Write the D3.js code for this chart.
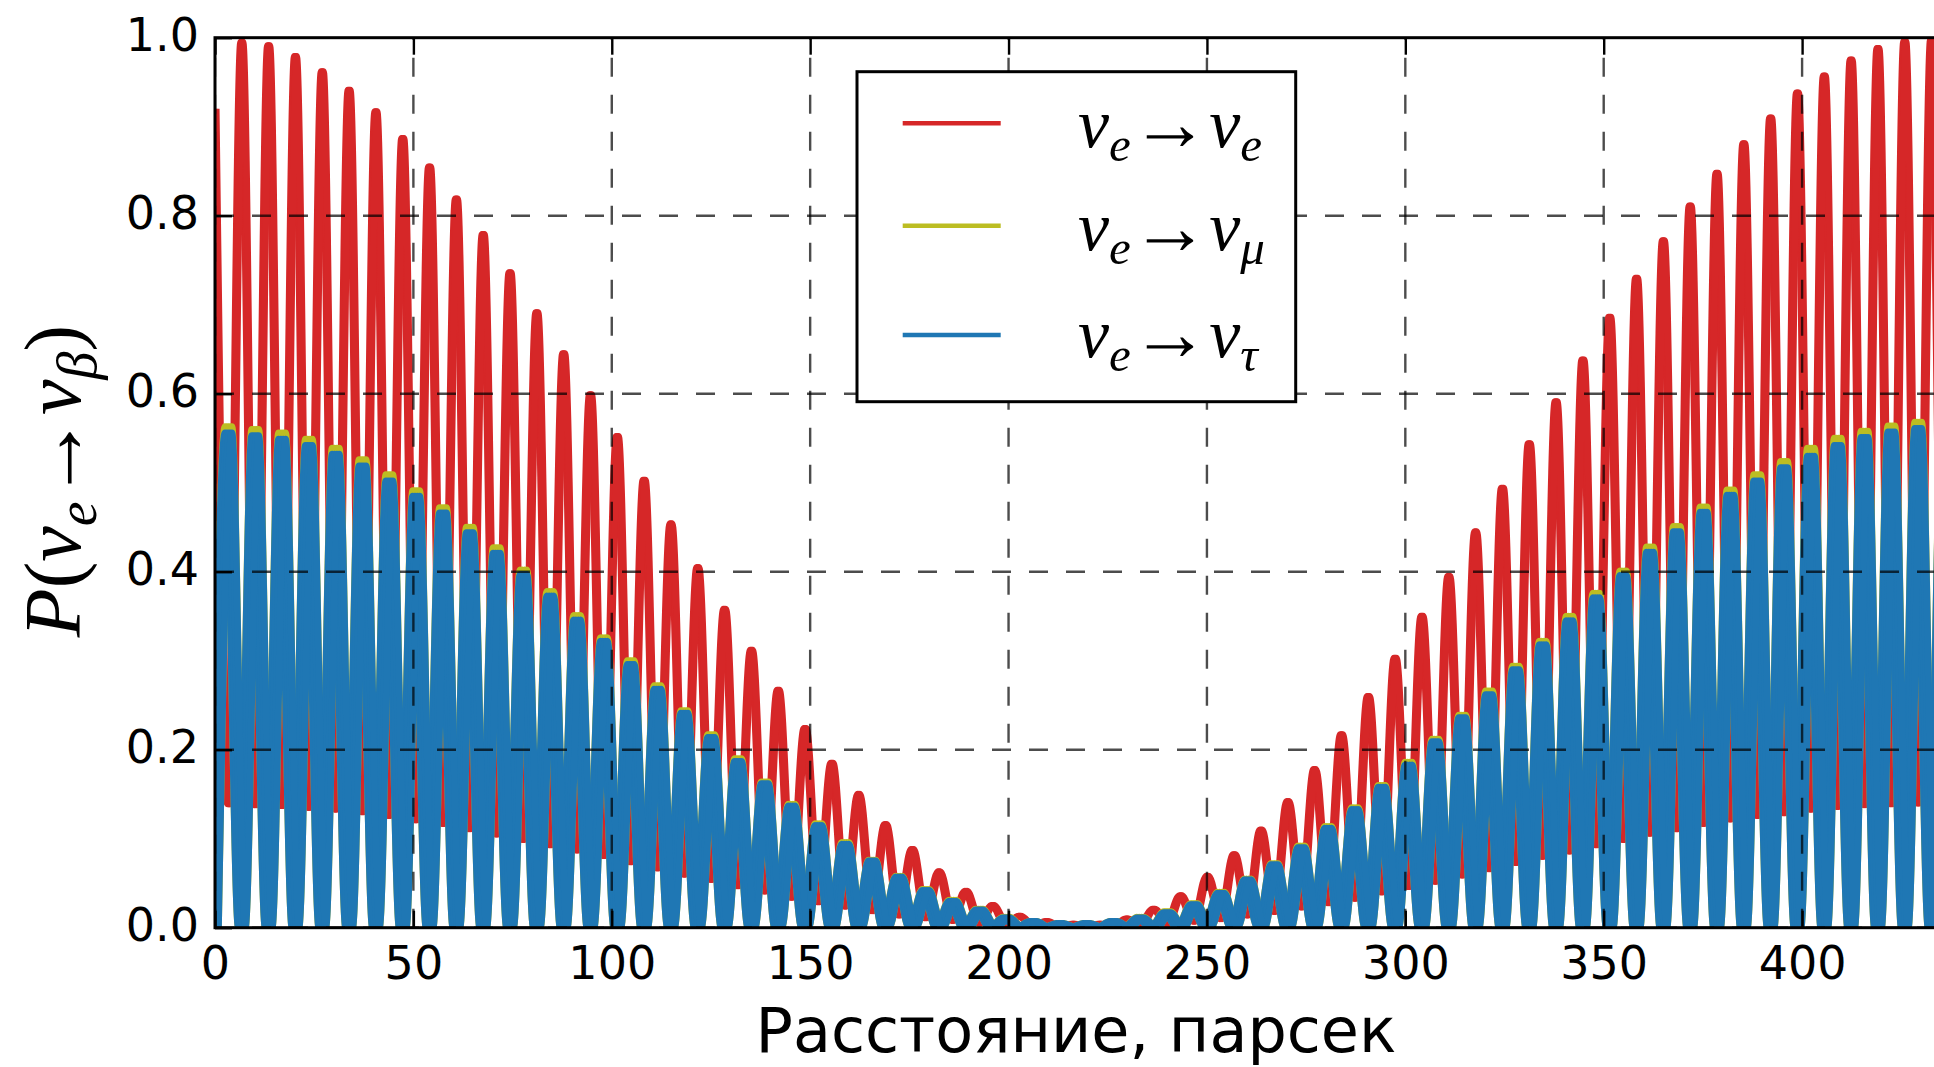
<!DOCTYPE html>
<html><head><meta charset="utf-8">
<script src="https://cdn.jsdelivr.net/npm/d3@7"></script>
<style>html,body{margin:0;padding:0;background:#fff}svg{display:block}</style>
</head><body>
<svg id="c" width="1934" height="1067"></svg>
<script>
// ---- data ----
// distance (parsec) of red maxima / blue & yellow minima
const peakX = [0,6.76,13.52,20.28,27.04,33.8,40.56,47.32,54.08,60.84,67.6,74.36,81.12,87.88,94.64,101.4,108.16,114.92,121.68,128.44,135.2,141.96,148.72,155.48,162.24,169,175.76,182.52,189.28,196.04,202.8,209.56,216.32,223.08,229.84,236.6,243.36,250.12,256.88,263.64,270.4,277.16,283.92,290.68,297.44,304.2,310.96,317.72,324.48,331.24,338,344.76,351.52,358.28,365.04,371.8,378.56,385.32,392.08,398.84,405.6,412.36,419.12,425.88,432.64,439.4];
// distance (parsec) of red minima / blue & yellow maxima
const troughX = [3.38,10.14,16.9,23.66,30.42,37.18,43.94,50.7,57.46,64.22,70.98,77.74,84.5,91.26,98.02,104.78,111.54,118.3,125.06,131.82,138.58,145.34,152.1,158.86,165.62,172.38,179.14,185.9,192.66,199.42,206.18,212.94,219.7,226.46,233.22,239.98,246.74,253.5,260.26,267.02,273.78,280.54,287.3,294.06,300.82,307.58,314.34,321.1,327.86,334.62,341.38,348.14,354.9,361.66,368.42,375.18,381.94,388.7,395.46,402.22,408.98,415.74,422.5,429.26,436.02];

// P(νe→νe) at its maxima and minima
const eeMax = [0.92,0.995,0.991,0.979,0.962,0.941,0.917,0.887,0.855,0.819,0.779,0.736,0.691,0.645,0.599,0.552,0.503,0.454,0.405,0.358,0.312,0.267,0.224,0.185,0.150,0.116,0.088,0.063,0.041,0.025,0.013,0.007,0.004,0.004,0.010,0.021,0.036,0.058,0.082,0.110,0.142,0.178,0.217,0.260,0.303,0.350,0.395,0.445,0.494,0.544,0.591,0.638,0.686,0.730,0.772,0.811,0.848,0.881,0.910,0.938,0.957,0.975,0.988,0.996,0.998,0.999];
const eeMin = [0.139,0.138,0.137,0.135,0.133,0.130,0.126,0.121,0.117,0.111,0.105,0.099,0.093,0.087,0.081,0.074,0.067,0.060,0.054,0.047,0.041,0.034,0.029,0.024,0.019,0.014,0.011,0.008,0.005,0.003,0.002,0.001,0.001,0.002,0.003,0.004,0.007,0.010,0.014,0.018,0.023,0.028,0.033,0.040,0.046,0.052,0.059,0.066,0.073,0.080,0.086,0.093,0.099,0.106,0.111,0.117,0.122,0.126,0.129,0.133,0.136,0.138,0.139,0.140,0.141];

// P(νe→νμ) maxima (minima are 0)
const emuMax = [0.563,0.560,0.556,0.549,0.539,0.526,0.509,0.491,0.472,0.450,0.427,0.402,0.378,0.351,0.326,0.300,0.272,0.244,0.217,0.190,0.164,0.139,0.117,0.096,0.076,0.058,0.043,0.031,0.021,0.012,0.007,0.005,0.005,0.007,0.012,0.018,0.027,0.040,0.055,0.072,0.092,0.114,0.135,0.160,0.186,0.212,0.239,0.266,0.294,0.322,0.350,0.376,0.401,0.428,0.451,0.473,0.492,0.509,0.524,0.539,0.550,0.558,0.564,0.568,0.570];
const emuMin = peakX.map(() => 0);

// P(νe→ντ) maxima (minima are 0)
const etauMax = [0.556,0.553,0.549,0.542,0.532,0.519,0.502,0.485,0.466,0.444,0.421,0.397,0.373,0.346,0.322,0.296,0.268,0.241,0.214,0.187,0.162,0.137,0.115,0.094,0.075,0.057,0.042,0.030,0.020,0.011,0.007,0.005,0.005,0.007,0.011,0.017,0.026,0.039,0.054,0.071,0.090,0.112,0.133,0.158,0.183,0.209,0.236,0.262,0.290,0.318,0.345,0.371,0.396,0.422,0.445,0.467,0.486,0.502,0.517,0.530,0.542,0.551,0.557,0.561,0.563];
const etauMin = peakX.map(() => 0);

const xTicks = [0,50,100,150,200,250,300,350,400];
const yTicks = [0,0.2,0.4,0.6,0.8,1.0];
const xLabel = "Расстояние, парсек";
const seriesColors = ["#d62728", "#bcbd22", "#1f77b4"];
const seriesSubs = ["e", "μ", "τ"];

// ---- chart ----
const svg = d3.select("#c");
const L = 215, T = 37.7, B = 927.7, R = 1937;
const x = d3.scaleLinear().domain([0, 434]).range([L, R]);
const y = d3.scaleLinear().domain([0, 1]).range([B, T]);

svg.append("defs").append("clipPath").attr("id", "pa")
  .append("rect").attr("x", L).attr("y", T).attr("width", R - L).attr("height", B - T);

function merge(hiX, hiY, loX, loY) {
  return d3.sort(hiX.map((d, i) => [d, hiY[i]]).concat(loX.map((d, i) => [d, loY[i]])), d => d[0]);
}
const series = [
  merge(peakX, eeMax, troughX, eeMin),
  merge(troughX, emuMax, peakX, emuMin),
  merge(troughX, etauMax, peakX, etauMin)
];
const line = d3.line().x(d => x(d[0])).y(d => y(d[1])).curve(d3.curveMonotoneX);

// the rendered curves carry a fine jitter that widens their steep flanks;
// emulate it with a small horizontal brush
const brush = [[-1.2, 0, 1.2], [-3.5, -1.2, 1.2, 3.5], [-3.5, -1.2, 1.2, 3.5]];
const gl = svg.append("g").attr("clip-path", "url(#pa)");
series.forEach((s, i) => {
  const g = gl.append("g");
  const dstr = line(s);
  brush[i].forEach(dx => {
    g.append("path").attr("d", dstr).attr("transform", `translate(${dx},0)`).attr("fill", "none")
      .attr("stroke", seriesColors[i]).attr("stroke-width", 6.7)
      .attr("stroke-linejoin", "round");
  });
});

// grid (drawn above the curves, classic style)
const gg = svg.append("g").attr("clip-path", "url(#pa)")
  .attr("stroke", "#000").attr("stroke-opacity", 0.7).attr("stroke-width", 2.4)
  .attr("stroke-dasharray", "19,18");
xTicks.forEach(t => gg.append("line").attr("x1", x(t)).attr("x2", x(t)).attr("y1", B).attr("y2", T));
yTicks.forEach(t => gg.append("line").attr("x1", L).attr("x2", R).attr("y1", y(t)).attr("y2", y(t)));

// axes
const fontTick = "'DejaVu Sans', sans-serif";
const ax = svg.append("g").attr("transform", `translate(0,${B})`)
  .call(d3.axisBottom(x).tickValues(xTicks).tickFormat(d3.format("d")).tickSize(-17).tickPadding(18));
const ay = svg.append("g").attr("transform", `translate(${L},0)`)
  .call(d3.axisLeft(y).tickValues(yTicks).tickFormat(d3.format(".1f")).tickSize(-17).tickPadding(16));
const at = svg.append("g").attr("transform", `translate(0,${T})`)
  .call(d3.axisTop(x).tickValues(xTicks).tickFormat("").tickSize(-17));
[ax, ay, at].forEach(g => {
  g.select(".domain").remove();
  g.selectAll(".tick line").attr("stroke", "#000").attr("stroke-width", 2.4);
  g.selectAll("text").attr("font-family", fontTick).attr("font-size", 46).attr("fill", "#000");
});
ay.selectAll("text").attr("dy", "0.27em");
ax.selectAll("text").attr("dy", "0.72em");

// spines
svg.append("rect").attr("x", L).attr("y", T).attr("width", R - L).attr("height", B - T)
  .attr("fill", "none").attr("stroke", "#000").attr("stroke-width", 3);

// x label
svg.append("text").attr("x", 1076).attr("y", 1052).attr("text-anchor", "middle")
  .attr("font-family", fontTick).attr("font-size", 62).attr("fill", "#000").text(xLabel);

// math text helper (TeX-like: italic symbols, lowered subscripts, long thin arrow)
const mathFont = "'Liberation Serif', 'DejaVu Serif', serif";
function mathText(sel, parts, size, arrowScale) {
  const t = sel.append("text").attr("font-family", mathFont).attr("font-size", size).attr("fill", "#000");
  let shift = 0;
  parts.forEach(p => {
    const ts = t.append("tspan").text(p.t);
    const target = p.sub ? 0.2 * size : (p.arrow ? 0.05 * size : 0);
    ts.attr("dy", target - shift); shift = target;
    if (p.sub) ts.attr("font-size", size * 0.7);
    if (p.it) ts.attr("font-style", "italic");
    if (p.arrow) ts.attr("font-size", size * arrowScale);
  });
  return t;
}

// y label
const yl = mathText(svg.append("g").attr("transform", "translate(80,481) rotate(-90)"),
  [{t: "P", it: true}, {t: "("}, {t: "ν", it: true}, {t: "e", it: true, sub: true},
   {t: "→", arrow: true}, {t: "ν", it: true}, {t: "β", it: true, sub: true}, {t: ")"}], 80, 1.08);
yl.attr("text-anchor", "middle");

// legend
const lg = svg.append("g");
lg.append("rect").attr("x", 857).attr("y", 71.7).attr("width", 438.7).attr("height", 330)
  .attr("fill", "#fff").attr("stroke", "#000").attr("stroke-width", 3);
const legY = [123.3, 225.7, 335];
const legBase = [146.7, 250, 356.7];
seriesColors.forEach((c, i) => {
  lg.append("line").attr("x1", 902.7).attr("x2", 1000.7).attr("y1", legY[i]).attr("y2", legY[i])
    .attr("stroke", c).attr("stroke-width", 4.5);
  mathText(lg.append("g").attr("transform", `translate(1078,${legBase[i]})`),
    [{t: "ν", it: true}, {t: "e", it: true, sub: true}, {t: "→", arrow: true}, {t: "ν", it: true}, {t: seriesSubs[i], it: true, sub: true}], 70, 1.12);
});
</script>
</body></html>
